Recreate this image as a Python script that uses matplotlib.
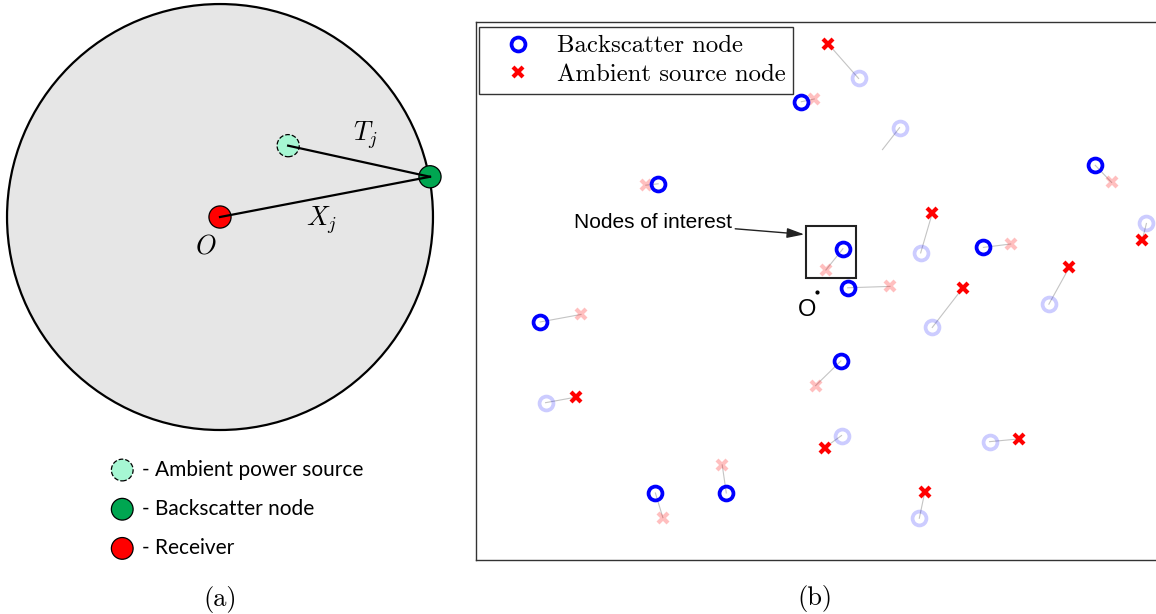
import matplotlib
matplotlib.use("Agg")
import matplotlib.pyplot as plt
from matplotlib.lines import Line2D
from matplotlib.patches import Circle, Rectangle

plt.rcParams['mathtext.fontset'] = 'cm'

# ---- panel (a): single backscatter link inside a unit disc ----
rx_pos = (0.0, 0.0)            # receiver at the origin O
bs_pos = (0.986, 0.189)        # backscatter node on the rim
amb_pos = (0.32, 0.335)        # ambient power source
node_r = 0.052

legend_a_labels = ['- Ambient power source', '- Backscatter node', '- Receiver']
legend_a_colors = ['#a6f7d3', '#00a651', '#ff0000']
legend_a_styles = ['--', '-', '-']

# ---- panel (b): backscatter / ambient source pairs, receiver at origin ----
bs_x = [6.1, -2.3, 12.1, -23.3, 40.8, 3.8, 15.2, 24.4, 48.3, 4.5,
        34.0, 16.9, -40.6, -39.8, 3.5, 3.6, 25.3, -23.7, -13.3, 15.0]
bs_y = [31.2, 27.8, 24.0, 15.8, 18.5, 6.3, 5.7, 6.5, 10.0, 0.6,
        -1.8, -5.2, -4.4, -16.2, -10.1, -21.0, -21.9, -29.4, -29.4, -33.1]
src_x = [1.6, -0.4, 9.6, -25.1, 43.2, 1.3, 16.9, 28.4, 47.7, 10.7,
         37.0, 21.4, -34.6, -35.4, -0.2, 1.1, 29.6, -22.6, -13.9, 15.8]
src_y = [36.3, 28.2, 20.8, 15.6, 16.0, 3.2, 11.5, 7.0, 7.6, 0.8,
         3.6, 0.6, -3.3, -15.4, -13.7, -22.8, -21.5, -33.0, -25.3, -29.3]
# which end of each pair is highlighted ('' = neither, source hidden)
active = ['src', 'bs', '', 'bs', 'bs', 'bs', 'src', 'bs', 'src', 'bs',
          'src', 'src', 'bs', 'src', 'bs', 'src', 'src', 'bs', 'bs', 'src']

roi = (-1.67, 2.1, 7.42, 7.55)   # x, y, w, h of the "nodes of interest" box

fig = plt.figure(figsize=(11.56, 6.14), dpi=100)

# panel (a)
ax_a = fig.add_axes([0, 0, 440 / 1156, 1])
ax_a.set_xlim(-1.033, 1.033)
ax_a.set_ylim(-1.864, 1.019)
ax_a.set_aspect('equal')
ax_a.axis('off')

ax_a.add_patch(Circle((0, 0), 1.0, facecolor='#e6e6e6', edgecolor='black', lw=1.6, zorder=1))
ax_a.plot([rx_pos[0], bs_pos[0]], [rx_pos[1], bs_pos[1]], color='black', lw=1.6, zorder=2)
ax_a.plot([amb_pos[0], bs_pos[0]], [amb_pos[1], bs_pos[1]], color='black', lw=1.6, zorder=2)
ax_a.add_patch(Circle(amb_pos, node_r, facecolor='#a6f7d3', edgecolor='black', lw=0.9,
                      linestyle='--', zorder=1.5))
ax_a.add_patch(Circle(bs_pos, node_r, facecolor='#00a651', edgecolor='black', lw=0.9,
                      zorder=1.5, clip_on=False))
ax_a.add_patch(Circle(rx_pos, node_r, facecolor='#ff0000', edgecolor='black', lw=0.9, zorder=1.5))

ax_a.text(0.681, 0.385, r'$T_j$', fontsize=19, ha='center', va='center')
ax_a.text(0.477, -0.014, r'$X_j$', fontsize=19, ha='center', va='center')
ax_a.text(-0.067, -0.139, r'$O$', fontsize=19, ha='center', va='center')

for i, (lab, col, ls) in enumerate(zip(legend_a_labels, legend_a_colors, legend_a_styles)):
    yy = -1.188 - 0.184 * i
    ax_a.add_patch(Circle((-0.459, yy), 0.051, facecolor=col, edgecolor='black', lw=0.9, linestyle=ls))
    ax_a.text(-0.368, yy, lab, fontsize=15, family='Lato', ha='left', va='center')

ax_a.text(0, -1.798, '(a)', fontsize=19, family='cmr10', ha='center', va='center')

# panel (b)
ax_b = fig.add_axes([476 / 1156, 1 - 560 / 614, 682 / 1156, 538.3 / 614])
ax_b.set_xlim(-50, 50)
ax_b.set_ylim(-39.2, 39.5)
ax_b.set_xticks([])
ax_b.set_yticks([])
for sp in ax_b.spines.values():
    sp.set_color('#333333')
    sp.set_linewidth(1.0)
ax_b.spines['right'].set_visible(False)

circ_kw = dict(marker='o', linestyle='none', mfc='none', mec='blue', ms=10, mew=2.7)
cross_kw = dict(marker='x', linestyle='none', color='red', ms=7.5, mew=3)

for bx, by, sx, sy, act in zip(bs_x, bs_y, src_x, src_y, active):
    ax_b.plot([bx, sx], [by, sy], color='#c4c4c4', lw=0.8, zorder=1)
    ax_b.plot(bx, by, alpha=1.0 if act == 'bs' else 0.2,
              zorder=3 if act == 'bs' else 2, **circ_kw)
    if act:
        ax_b.plot(sx, sy, alpha=1.0 if act == 'src' else 0.25,
                  zorder=3 if act == 'src' else 2, **cross_kw)

ax_b.add_patch(Rectangle(roi[:2], roi[2], roi[3], fill=False, edgecolor='#222222', lw=1.5, zorder=4))
ax_b.annotate('Nodes of interest', xy=(-1.86, 8.4), xytext=(-12.4, 10.2),
              fontsize=15, family='Liberation Sans', ha='right', va='center',
              arrowprops=dict(arrowstyle='-|>,head_length=0.7,head_width=0.2', color='#222222',
                              lw=1.0, shrinkA=0, shrinkB=0))
ax_b.plot(0, 0, 'k.', ms=4)
ax_b.text(-1.5, -2.6, 'O', fontsize=17, family='Liberation Sans', ha='center', va='center')

handles = [Line2D([], [], **circ_kw), Line2D([], [], **cross_kw)]
leg = ax_b.legend(handles, ['Backscatter node', 'Ambient source node'],
                  loc='upper left', bbox_to_anchor=(0.004, 0.99), borderaxespad=0,
                  prop={'family': 'cmr10', 'size': 17.8}, fancybox=False,
                  handlelength=2.5, handletextpad=0.33, borderpad=0.32,
                  labelspacing=0.25, framealpha=1)
leg.get_frame().set_edgecolor('#333333')
leg.get_frame().set_linewidth(1.0)

fig.text(815 / 1156, 1 - 598 / 614, '(b)', fontsize=19, family='cmr10', ha='center', va='center')

fig.savefig('out.png', dpi=100)
